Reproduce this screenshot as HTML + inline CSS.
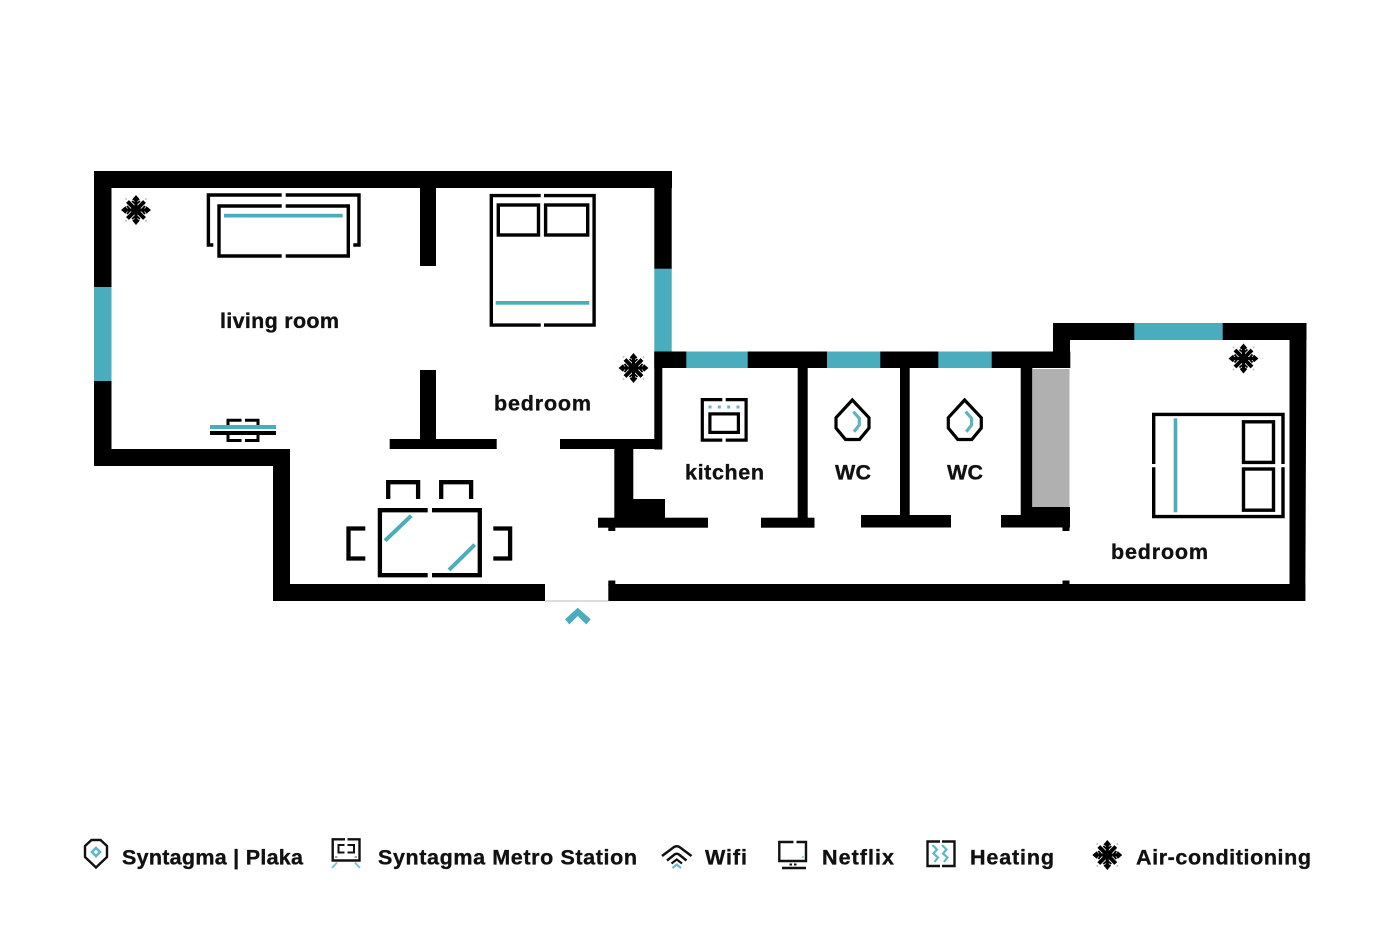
<!DOCTYPE html>
<html><head><meta charset="utf-8"><style>
html,body{margin:0;padding:0;background:#fff}
svg{display:block}
text{font-family:"Liberation Sans",sans-serif;font-weight:700;font-size:21.5px;fill:#111;stroke:#111;stroke-width:.35}
</style></head><body>
<svg width="1400" height="933" viewBox="0 0 1400 933" xmlns="http://www.w3.org/2000/svg">
<defs>
<g id="flake" fill="none">
<g fill="#a9ccd2"><circle cx="-10" cy="-11" r="1"/><circle cx="10" cy="-11" r="1"/><circle cx="-10" cy="11" r="1"/><circle cx="10" cy="11" r="1"/></g>
<path d="M0 -13V13M-13 0H13" stroke="#000" stroke-width="3"/>
<path d="M-8.5 -8.5L8.5 8.5M8.5 -8.5L-8.5 8.5" stroke="#000" stroke-width="4"/>
<path d="M-4 -9L0 -5.5L4 -9M-4 9L0 5.5L4 9M-9 -4L-5.5 0L-9 4M9 -4L5.5 0L9 4" stroke="#000" stroke-width="1.8"/>
<g fill="#000"><polygon id="tip" points="0,-15 3.8,-10.5 1.5,-9 0,-9.5 -1.5,-9 -3.8,-10.5"/>
<use href="#tip" transform="rotate(90)"/><use href="#tip" transform="rotate(180)"/><use href="#tip" transform="rotate(270)"/></g>
<circle r="3" fill="#000"/>
</g>
</defs>
<!-- outer walls -->
<g fill="#000">
<rect x="94" y="171" width="578" height="17"/>
<rect x="94" y="171" width="17.5" height="116"/>
<rect x="94" y="381" width="17.5" height="85"/>
<rect x="94" y="449" width="196" height="17"/>
<rect x="273" y="449" width="17" height="152"/>
<rect x="273" y="584" width="272" height="17"/>
<rect x="608.3" y="584" width="697" height="17"/>
<rect x="608.3" y="580.5" width="7" height="5"/>
<rect x="1062.5" y="580.5" width="7" height="5"/>
<rect x="654.3" y="171" width="17.4" height="98"/>
<rect x="654.3" y="351.5" width="416" height="16.5"/>
<rect x="654.3" y="351.5" width="8" height="98"/>
<rect x="560" y="439" width="102" height="10"/>
<rect x="389.7" y="439" width="107" height="10"/>
<rect x="420" y="171" width="16" height="95"/>
<rect x="420" y="370" width="16" height="72"/>
<rect x="614.3" y="445" width="19" height="75"/>
<rect x="633" y="499" width="32" height="20"/>
<rect x="598" y="517.7" width="110" height="10"/>
<rect x="608.3" y="525" width="7" height="6"/>
<rect x="797.7" y="360" width="10" height="160"/>
<rect x="761" y="517.7" width="53.5" height="10"/>
<rect x="861" y="515" width="90" height="12.5"/>
<rect x="900" y="360" width="9.7" height="160"/>
<rect x="1020.7" y="360" width="11.6" height="160"/>
<rect x="1001" y="515" width="69" height="12.5"/>
<rect x="1032" y="507" width="38" height="10"/>
<rect x="1062.5" y="525" width="7" height="6"/>
<rect x="1053" y="323" width="17" height="40"/>
<rect x="1053" y="323" width="253.5" height="17"/>
<polygon points="1289.5,323 1306.5,323 1305.3,601 1289.5,601"/>
</g>
<rect x="1032.3" y="369" width="37.2" height="138" fill="#b0b0b0"/>
<rect x="545" y="600.5" width="63.5" height="1" fill="#bbb"/>
<!-- windows -->
<g fill="#4aadbd">
<rect x="94" y="287" width="17.5" height="94"/>
<rect x="654.3" y="268.7" width="17.4" height="82.8"/>
<rect x="686.3" y="351.5" width="61.4" height="16.5"/>
<rect x="827" y="351.5" width="53.3" height="16.5"/>
<rect x="938.3" y="351.5" width="53.4" height="16.5"/>
<rect x="1134.3" y="323" width="88.4" height="17"/>
<polygon points="565,619.3 569.3,624.5 577.7,616 586.3,624.5 590.7,619.3 577.7,607.7"/>
</g>
<!-- sofa -->
<g fill="none" stroke="#000" stroke-width="3.4">
<path d="M213.3 245H208.4V195H281.7M285.7 195H359V245H353.3"/>
<path d="M281.7 206H219V256H281.7M285.7 206H348.3V256H285.7"/>
</g>
<rect x="224" y="213.8" width="118.7" height="3.7" fill="#4aadbd"/>
<!-- wall unit -->
<rect x="210" y="425" width="66" height="4" fill="#4aadbd"/>
<rect x="210" y="431" width="66" height="4" fill="#000"/>
<g fill="none" stroke="#000" stroke-width="3">
<path d="M228 425V420.2H241.5M245 420.2H258V425"/>
<path d="M228 435V440.5H241.5M245 440.5H258V435"/>
</g>
<!-- bed 1 -->
<g fill="none" stroke="#000" stroke-width="3.4">
<path d="M540.7 195.6H491.3V325.1H540.7M544 195.6H594.1V325.1H544"/>
<rect x="498.3" y="205" width="40.2" height="30"/>
<rect x="545.6" y="205" width="42.1" height="30"/>
</g>
<rect x="495.7" y="301" width="93.6" height="3.7" fill="#4aadbd"/>
<!-- table -->
<g fill="none" stroke="#000" stroke-width="4.3">
<path d="M427.7 510.2H379.9V575.2H427.7M432 510.2H479.8V575.2H432"/>
<path d="M388.2 499V482.2H418.1V499"/>
<path d="M441.2 499V482.2H471.1V499"/>
<path d="M365.3 528.5H348.5V558.5H365.3"/>
<path d="M493.3 528.5H510.1V558.5H493.3"/>
</g>
<g stroke="#4aadbd" stroke-width="4" fill="none">
<path d="M385 540.7L411.3 515.7"/>
<path d="M449 570L474.7 544.7"/>
</g>
<!-- oven -->
<g fill="none" stroke="#000" stroke-width="3.2">
<path d="M722.3 399.6H702.3V440.1H722.3M725.7 399.6H746.1V440.1H725.7"/>
<rect x="709.9" y="413.9" width="28.5" height="18.5"/>
</g>
<g fill="#5fb8c4"><rect x="708.5" y="405.5" width="3" height="3"/><rect x="717.8" y="405.5" width="3" height="3"/><rect x="727.2" y="405.5" width="3" height="3"/><rect x="736.5" y="405.5" width="3" height="3"/></g>
<!-- drops -->
<g id="drop" fill="none" stroke-width="3.2">
<polygon points="852.3,400 869,417.7 869,428 859.5,439.5 845.5,439.5 836,428 836,417.7" stroke="#000"/>
<path d="M853.3 411.7L859.3 418.3V425L854 431.7" stroke="#5fb4c2"/>
</g>
<use href="#drop" x="112.3"/>
<!-- bed 2 -->
<g fill="none" stroke="#000" stroke-width="3.4">
<path d="M1153.7 464V414.4H1283V464M1153.7 467.3V516.6H1283V467.3"/>
<rect x="1243.5" y="421.8" width="30" height="40.6"/>
<rect x="1243.5" y="469" width="30" height="41.2"/>
</g>
<rect x="1173.7" y="418.3" width="3.6" height="94" fill="#4aadbd"/>
<!-- flakes -->
<use href="#flake" x="136" y="210"/>
<use href="#flake" x="633.5" y="368"/>
<use href="#flake" x="1243.5" y="358.5"/>
<use href="#flake" x="1107.3" y="855"/>
<!-- room labels -->
<text x="220" y="328" textLength="119">living room</text>
<text x="494" y="410.5" textLength="97">bedroom</text>
<text x="685" y="479.5" textLength="79">kitchen</text>
<text x="835" y="479.5" textLength="36">WC</text>
<text x="947" y="479.5" textLength="36">WC</text>
<text x="1111" y="559" textLength="97">bedroom</text>
<!-- legend labels -->
<text x="122" y="864.5" textLength="181">Syntagma | Plaka</text>
<text x="378" y="864.5" textLength="259">Syntagma Metro Station</text>
<text x="705" y="864.5" textLength="42">Wifi</text>
<text x="822" y="864.5" textLength="72">Netflix</text>
<text x="970" y="864.5" textLength="84">Heating</text>
<text x="1136" y="864.5" textLength="175">Air-conditioning</text>
<!-- legend icons -->
<g fill="none">
<polygon points="91.5,840 100.5,840 107,846 107,857 96,867.5 85,857 85,846" stroke="#111" stroke-width="2.4"/>
<polygon points="96,848 100,852 96,856 92,852" stroke="#5fb8c4" stroke-width="2.6"/>
<path d="M345 839.3H332.7V860.5H359.5V839.3H347.5" stroke="#111" stroke-width="2.4"/>
<path d="M344.5 845H338.5V852.5H344.5M347.5 845H354V852.5H347.5" stroke="#111" stroke-width="2"/>
<path d="M335 857h2.5M354.5 857h2.5" stroke="#888" stroke-width="1.6"/>
<path d="M332 868L337 862.5M360 868L355 862.5" stroke="#7cc5cf" stroke-width="2"/>
<path d="M662 856L674 847Q676.7 845.5 679.5 847L691.5 856M667 860.5L674.5 854.5Q676.7 853 679 854.5L686.5 860.5" stroke="#111" stroke-width="2.5"/>
<path d="M671.5 863.5L676.7 859.5L682 863.5" stroke="#111" stroke-width="2.2"/>
<path d="M672.5 868L676.7 864.5L681 868" stroke="#6bbcc8" stroke-width="2.2"/>
<path d="M793.5 842H779.3V861H806V842H796.5" stroke="#111" stroke-width="2.4"/>
<path d="M782 868H806" stroke="#111" stroke-width="2.4"/>
<path d="M789.5 864.5h2.5M794 864.5h2.5" stroke="#111" stroke-width="2"/>
<path d="M802 857h1.6" stroke="#6bbcc8" stroke-width="1.6"/>
<path d="M940 841.5H927.5V866H940M942 841.5H954.5V866H942" stroke="#111" stroke-width="2.4"/>
<path d="M932.5 845L937 849.5L933.5 853.5L938 857.5L934.5 862M942 845L946.5 849.5L943 853.5L947.5 857.5L944 862" stroke="#5fb8c4" stroke-width="2.2"/>
</g>
</svg>
</body></html>
